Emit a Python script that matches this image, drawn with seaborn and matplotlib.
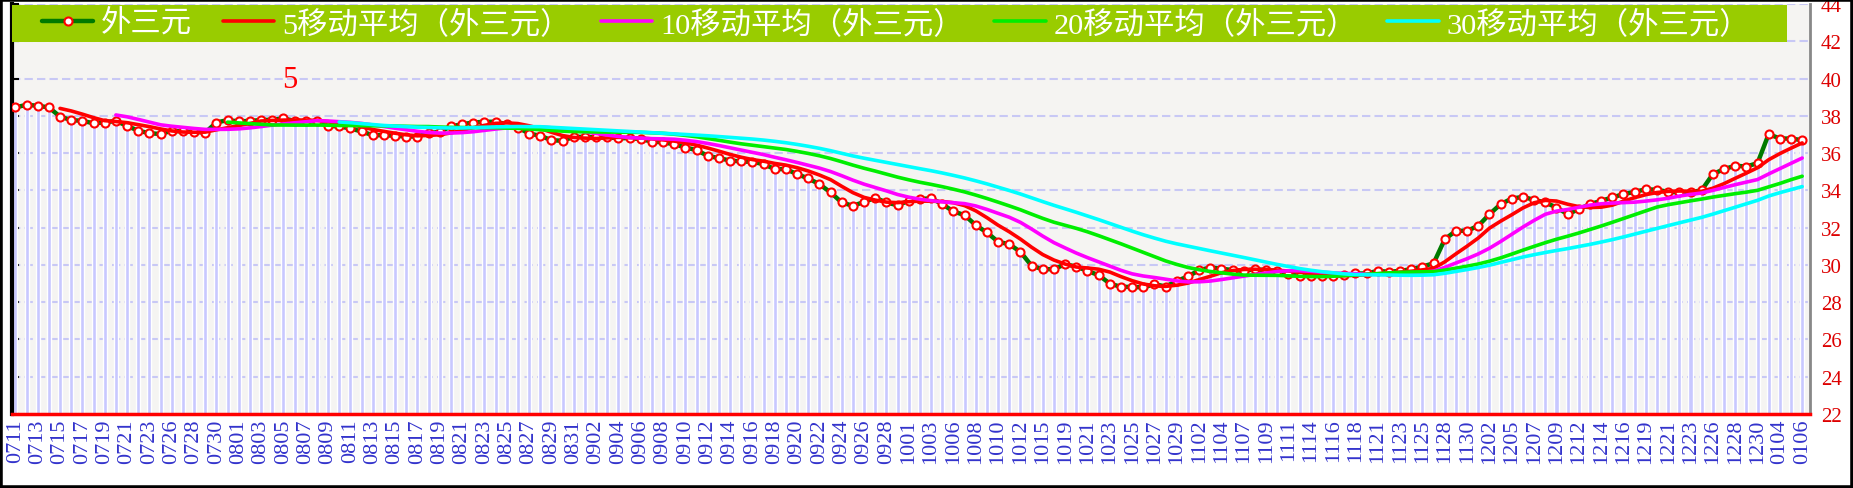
import numpy as np
import pandas as pd
import matplotlib
matplotlib.use("Agg")
import matplotlib.pyplot as plt
import seaborn as sns
from matplotlib.patches import Rectangle

# tick labels (one every second draw)
dates = ["0711", "0713", "0715", "0717", "0719", "0721", "0723", "0726", "0728", "0730",
         "0801", "0803", "0805", "0807", "0809", "0811", "0813", "0815", "0817", "0819",
         "0821", "0823", "0825", "0827", "0829", "0831", "0902", "0904", "0906", "0908",
         "0910", "0912", "0914", "0916", "0918", "0920", "0922", "0924", "0926", "0928",
         "1001", "1003", "1006", "1008", "1010", "1012", "1015", "1019", "1021", "1023",
         "1025", "1027", "1029", "1102", "1104", "1107", "1109", "1111", "1114", "1116",
         "1118", "1121", "1123", "1125", "1128", "1130", "1202", "1205", "1207", "1209",
         "1212", "1214", "1216", "1219", "1221", "1223", "1226", "1228", "1230", "0104",
         "0106"]

# 外三元 values
values = [38.45, 38.59, 38.54, 38.45, 37.96, 37.77, 37.73, 37.60, 37.64, 37.73,
          37.46, 37.20, 37.07, 37.02, 37.20, 37.16, 37.14, 37.10, 37.64, 37.77,
          37.70, 37.73, 37.77, 37.79, 37.86, 37.73, 37.70, 37.70, 37.46, 37.43,
          37.32, 37.16, 36.96,
          36.96, 36.93, 36.89, 36.89, 37.07, 37.14, 37.43, 37.55, 37.64, 37.68,
          37.68, 37.55, 37.37, 37.05, 36.93, 36.69, 36.66, 36.87, 36.87, 36.84,
          36.84, 36.80, 36.80, 36.75, 36.62, 36.57, 36.48, 36.30, 36.16, 35.85,
          35.73, 35.60, 35.55,
          35.53, 35.41, 35.14, 35.14, 34.87, 34.64, 34.33, 33.89, 33.35, 33.17,
          33.38, 33.60, 33.35, 33.20, 33.44, 33.53, 33.58, 33.26, 32.87, 32.67,
          32.13, 31.74, 31.24, 31.11, 30.70, 29.95, 29.77, 29.77, 30.04, 29.91,
          29.68, 29.45,
          29.00, 28.82, 28.82, 28.79, 28.97, 28.84, 29.14, 29.38, 29.72, 29.86,
          29.80, 29.72, 29.68, 29.77, 29.72, 29.68, 29.50, 29.41, 29.41, 29.41,
          29.41, 29.45, 29.54, 29.54, 29.68, 29.63, 29.68, 29.77, 29.91, 30.09,
          31.38, 31.83, 31.83,
          32.10, 32.72, 33.26, 33.56, 33.65, 33.49, 33.35, 33.08, 32.72, 32.99,
          33.26, 33.44, 33.62, 33.80, 33.92, 34.06, 34.03, 33.92, 33.89, 33.89,
          34.01, 34.87, 35.14, 35.32, 35.28, 35.46, 37.02, 36.78, 36.78, 36.69]

series_name = "外三元"
ma_windows = [5, 10, 20, 30]
ma_colors = ["#ff0000", "#ff00ff", "#00ee00", "#00ffff"]
y_ticks = list(range(22, 45, 2))

sns.set_style("white")
plt.rcParams['font.family'] = ['Liberation Serif', 'Noto Sans CJK SC']

df = pd.DataFrame({'idx': np.arange(len(values)), 'value': values})
for w in ma_windows:
    df[f'ma{w}'] = df['value'].rolling(w).mean()

W, H = 1853, 489
fig = plt.figure(figsize=(W / 100, H / 100), dpi=100)
ax = fig.add_axes([12 / W, 74 / H, 1798 / W, 410 / H])
ax.set_facecolor('#f5f4f2')

# lavender stems
ax.bar(df['idx'], df['value'], width=0.36, color='#c8c8ff', zorder=1)

sns.lineplot(data=df, x='idx', y='value', ax=ax, color='#007a00', lw=3.2,
             marker='o', markersize=5.8, markerfacecolor='white',
             markeredgecolor='#ff0000', markeredgewidth=1.5,
             label=series_name, zorder=3)
for w, c in zip(ma_windows, ma_colors):
    sns.lineplot(data=df, x='idx', y=f'ma{w}', ax=ax, color=c, lw=2.6,
                 label=f'{w}移动平均（{series_name}）', zorder=4)

ax.text(24.6, 39.95, '5', color='#ff0000', fontsize=22, ha='center', va='center')

ax.set_xlim(-0.3, 160.7)
ax.set_ylim(22, 44)
ax.set_yticks(y_ticks)
ax.set_xticks(range(0, len(values), 2))
ax.set_xticklabels(dates, rotation=90)
ax.set_xlabel('')
ax.set_ylabel('')
ax.set_axisbelow(True)
ax.yaxis.grid(True, color='#c8c8f5', linestyle=(0, (4, 2)), lw=1.5)
ax.xaxis.grid(False)

ax.tick_params(axis='x', direction='in', length=7, width=2, color='#ff0000',
               labelcolor='#3333cc', labelsize=16, pad=3)
ax.tick_params(axis='y', left=True, right=False, labelleft=False, labelright=True,
               direction='in', length=5, width=1.5, color='black',
               labelcolor='#dd0000', labelsize=15, pad=8)

ax.spines['left'].set_color('black')
ax.spines['left'].set_linewidth(3)
ax.spines['right'].set_color('#888888')
ax.spines['right'].set_linewidth(2)
ax.spines['bottom'].set_color('#ff0000')
ax.spines['bottom'].set_linewidth(2.5)
ax.spines['top'].set_visible(False)

# green legend band
ax.add_patch(Rectangle((0, 0.9085), 0.9872, 0.0891, transform=ax.transAxes,
                       facecolor='#99cc00', edgecolor='none', zorder=5))
leg = ax.legend(loc='center left', bbox_to_anchor=(0.0165, 0.953), ncol=5,
                borderaxespad=0, borderpad=0, frameon=False, fontsize=21.9,
                handlelength=1.7, handletextpad=0.25, columnspacing=1.0,
                labelcolor='white')
leg.set_zorder(6)

fig.patches.append(Rectangle((0, 0), 1, 1, transform=fig.transFigure, fill=False,
                             edgecolor='black', lw=4))

fig.savefig('out.png', dpi=100, facecolor='white')
plt.close(fig)
